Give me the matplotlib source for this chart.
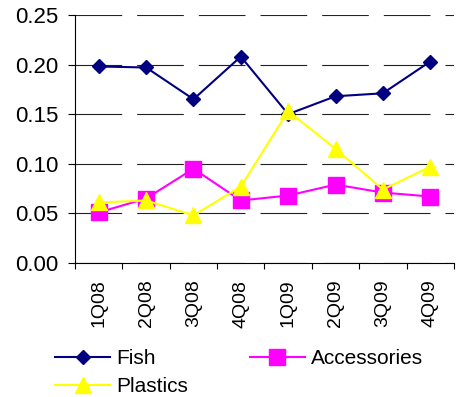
import matplotlib.pyplot as plt
from matplotlib.ticker import FixedLocator, FormatStrFormatter

plt.rcParams['font.family'] = ['Liberation Sans', 'DejaVu Sans']

quarters = ['1Q08', '2Q08', '3Q08', '4Q08', '1Q09', '2Q09', '3Q09', '4Q09']
fish = [0.198, 0.197, 0.165, 0.208, 0.150, 0.168, 0.171, 0.203]
accessories = [0.051, 0.065, 0.095, 0.063, 0.068, 0.079, 0.071, 0.067]
plastics = [0.061, 0.063, 0.048, 0.077, 0.153, 0.115, 0.074, 0.097]

fig = plt.figure(figsize=(4.58, 3.97), dpi=100)
ax = fig.add_axes([0.164, 0.3375, 0.827, 0.625])

x = list(range(len(quarters)))
l_fish, = ax.plot(x, fish, color='#000080', marker='D', markersize=7.5, linewidth=1.5, label='Fish')
l_acc, = ax.plot(x, accessories, color='#FF00FF', marker='s', markersize=11, linewidth=1.5, label='Accessories')
l_pla, = ax.plot(x, plastics, color='#FFFF00', marker='^', markersize=12, linewidth=1.5, label='Plastics')

ax.set_xlim(-0.5, len(quarters) - 0.5)
ax.set_ylim(0, 0.25)
ax.set_yticks([0, 0.05, 0.10, 0.15, 0.20, 0.25])
ax.yaxis.set_major_formatter(FormatStrFormatter('%.2f'))
ax.yaxis.grid(True, color='#222222', linewidth=0.8, dashes=(42, 13.5))
ax.set_axisbelow(True)

ax.set_xticks(x)
ax.set_xticklabels(quarters, rotation=90)
ax.xaxis.set_minor_locator(FixedLocator([i - 0.5 for i in range(len(quarters) + 1)]))
ax.tick_params(axis='x', which='major', length=0, pad=12, labelsize=14)
ax.tick_params(axis='x', which='minor', length=4.5, width=0.8, direction='out')
ax.tick_params(axis='y', length=5, width=0.8, direction='out', pad=7, labelsize=16)

ax.spines['top'].set_visible(False)
ax.spines['right'].set_visible(False)
ax.spines['left'].set_linewidth(0.8)
ax.spines['bottom'].set_linewidth(0.8)

# order so that rows read Fish, Accessories / Plastics
fig.legend([l_fish, l_pla, l_acc], ['Fish', 'Plastics', 'Accessories'],
           loc='upper left', bbox_to_anchor=(55 / 458, 1 - 349 / 397), ncol=2, frameon=False,
           fontsize=15, handlelength=2.64, handletextpad=0.3, columnspacing=2.95,
           labelspacing=0.45, borderpad=0, borderaxespad=0)

fig.savefig('out.png', dpi=100)
